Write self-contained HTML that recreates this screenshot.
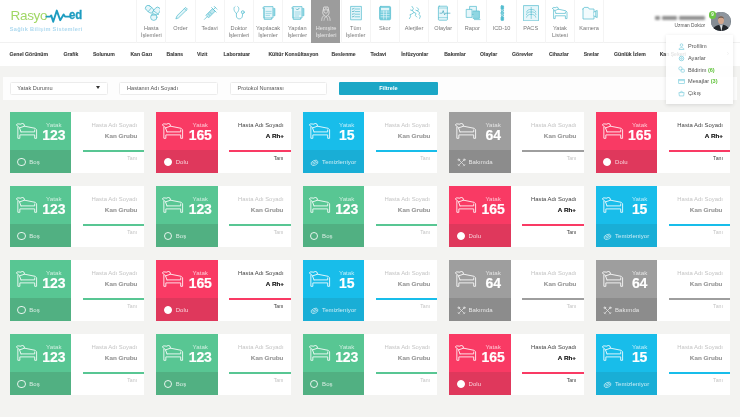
<!DOCTYPE html>
<html><head><meta charset="utf-8"><title>RasyoMed</title>
<style>
*{box-sizing:border-box;margin:0;padding:0}
html,body{width:740px;height:417px;overflow:hidden}
body{background:#f3f3f1;font-family:"Liberation Sans",sans-serif;position:relative;color:#555}
.top{position:absolute;left:0;top:0;width:740px;height:42.5px;background:#fff;border-bottom:1px solid #f1f1f1}
.subbar{position:absolute;left:0;top:42.5px;width:740px;height:23px;background:#fff}
.logo1{position:absolute;left:10.5px;top:7.5px;font-size:13.5px;color:#a0d765;letter-spacing:-0.3px;line-height:15px;font-weight:400}
.logo2{position:absolute;left:69.3px;top:7.6px;font-size:12.4px;color:#1d9cc0;font-weight:700;line-height:15px;-webkit-text-stroke:0.3px #1d9cc0;transform:scaleX(0.92);transform-origin:0 50%}
.ecg{position:absolute;left:0;top:0}
.tag{position:absolute;left:9.7px;top:25.6px;font-size:5.6px;font-weight:700;color:#add9ef;letter-spacing:0.33px;line-height:7px;white-space:nowrap}
.ni{position:absolute;top:0;width:29.19px;height:42.5px;border-left:1px solid #f4f4f4;text-align:center}
.ni svg{position:absolute;left:6.6px;top:4.6px}
.ni .nl{position:absolute;left:-4px;right:-4px;top:25.2px;font-size:5.6px;line-height:6.5px;color:#787878;white-space:nowrap}
.ni.act{background:#9c9c9c;border-left-color:#9c9c9c;height:42.5px;width:28.5px}
.ni.act .nl{color:#e8e8e8}
.nsep{position:absolute;top:0;width:1px;height:42.5px;background:#f4f4f4}
.si{position:absolute;top:50.4px;font-size:5.1px;-webkit-text-stroke:0.1px #3d3d3d;line-height:8px;font-weight:700;color:#3d3d3d;white-space:nowrap}
.uname{position:absolute;left:654px;top:15.4px;width:52px;height:5.5px;filter:blur(1.2px)}
.uname i{position:absolute;top:0.8px;height:3.6px;background:#909090;border-radius:1px}
.urole{position:absolute;right:34.8px;top:23.1px;font-size:4.8px;line-height:6px;color:#555;white-space:nowrap}
.avatar{position:absolute;left:711.3px;top:11.6px;width:19.6px;height:19.6px;border-radius:50%;overflow:hidden;background:#5c6670}
.badge{position:absolute;left:709px;top:11.4px;width:7.2px;height:7.2px;border-radius:50%;background:#6cc644;color:#fff;font-size:4.5px;line-height:7.2px;text-align:center;font-weight:700}
.sarrow{position:absolute;left:726.8px;top:49.6px;font-size:7px;line-height:8px;color:#777}
.fpanel{position:absolute;left:3.2px;top:76.6px;width:734.2px;height:23.4px;background:#fdfdfd}
.inp{position:absolute;top:82px;height:13px;background:#fff;border:1px solid #ececec;border-radius:1.5px;font-size:5.6px;line-height:11px;color:#555;padding-left:6.8px;white-space:nowrap}
.btn{position:absolute;left:339.2px;top:82.2px;width:98.4px;height:12.8px;background:#1ba7c6;border-radius:1px;color:#fff;font-weight:700;font-size:5.6px;line-height:12.8px;text-align:center}
.caret{position:absolute;left:96.4px;top:86.4px;width:0;height:0;border-left:2px solid transparent;border-right:2px solid transparent;border-top:3.4px solid #333}
.dd{position:absolute;left:666.4px;top:35.4px;width:66.8px;height:68.4px;background:rgba(255,255,255,0.87);box-shadow:0 0.5px 4px rgba(0,0,0,0.12)}
.dd .it{position:absolute;left:21.6px;font-size:5.6px;line-height:8px;color:#555;white-space:nowrap}
.dd .it b{color:#5fc23a}
.dd svg{position:absolute;left:11.8px}
.card{position:absolute;width:134.7px;height:61.2px;background:#fff}
.cl{position:absolute;left:0;top:0;width:61.4px;height:61.2px}
.ft{position:absolute;left:0;top:37.7px;width:61.4px;height:23.5px}
.kg .cl{background:#58c693}.kg .ft{background:#51b082}.kg .ln{background:#58c693}
.kr .cl{background:#f93a64}.kr .ft{background:#df385c}.kr .ln{background:#f93a64}
.kb .cl{background:#18bdea}.kb .ft{background:#19aed6}.kb .ln{background:#18bdea}
.kx .cl{background:#9e9e9e}.kx .ft{background:#8c8c8c}.kx .ln{background:#9e9e9e}
.bed{position:absolute;left:6px;top:10.9px}
.yt{position:absolute;left:24px;width:40px;top:8.9px;text-align:center;font-size:6.2px;line-height:7px;color:rgba(255,255,255,0.72)}
.num{position:absolute;left:24px;width:40px;top:15.4px;text-align:center;font-size:14px;-webkit-text-stroke:0.18px #fff;letter-spacing:0.3px;line-height:14px;font-weight:700;color:#fff;letter-spacing:-0.1px}
.circ{position:absolute;left:7.6px;top:8.1px;width:8.2px;height:8.2px;border:0.8px solid rgba(255,255,255,0.85);border-radius:50%}
.circ.full{background:#fff;border-color:#fff}
.sic{position:absolute;left:7.6px;top:7.9px;opacity:0.85}
.st{position:absolute;left:19.4px;top:9.3px;font-size:6px;letter-spacing:0.08px;line-height:7px;color:rgba(255,255,255,0.78);white-space:nowrap}
.cr{position:absolute;left:61.4px;top:0;width:73.3px;height:61.2px;text-align:right}
.t1{position:absolute;right:7.4px;top:10.1px;font-size:5.9px;line-height:7px;color:#c4c4c4;white-space:nowrap}
.t2{position:absolute;right:7.4px;top:19.6px;font-size:5.9px;transform:scaleX(1.07);transform-origin:100% 50%;-webkit-text-stroke:0.15px currentColor;line-height:8px;font-weight:700;color:#9a9a9a;white-space:nowrap}
.t3{position:absolute;right:7.4px;top:42.6px;font-size:5.2px;line-height:7px;color:#c4c4c4;white-space:nowrap}
.ln{position:absolute;left:11.6px;right:0;top:38.2px;height:1.6px}
.kr .t1{color:#444}.kr .t2{color:#111}.kr .t3{color:#444}
#wrap{position:absolute;left:0;top:0;width:740px;height:417px;filter:blur(0.4px);will-change:transform}
</style></head><body><div id="wrap">
<div class="top"></div>
<div class="subbar"></div>
<div class="logo1">Rasyo</div>
<svg class="ecg" width="90" height="30" viewBox="0 0 90 30"><path d="M46.4 16.6 H50 L51.2 15.4 L53.2 21.8 L56.8 10.6 L60.2 20.2 L63.6 14.4 L65 16.6 H69.6" fill="none" stroke="#1d9cc0" stroke-width="1.9" stroke-linejoin="round" stroke-linecap="round"/></svg>
<div class="logo2">ed</div>
<div class="tag">Sağlık Bilişim Sistemleri</div>
<div class="ni" style="left:136.20px"><svg viewBox="0 0 16 16" width="16" height="16"><g stroke="#5bbfd0" stroke-width="0.75" fill="#e6f6fa" stroke-linejoin="round" stroke-linecap="round"><rect x="1" y="1.5" width="9" height="5.4" rx="2.7" transform="rotate(40 5.5 4.2)"/><rect x="8" y="3.5" width="9" height="5.6" rx="2.8" transform="rotate(-50 12.5 6.3)"/><circle cx="9.8" cy="12.2" r="3.2"/><path d="M4.2 6.6 L7.6 2.6 M10.2 6.2 L14.6 9.6 M7.4 10.2 L12 10" fill="none"/></g></svg><div class="nl">Hasta<br>İşlemleri</div></div>
<div class="ni" style="left:165.39px"><svg viewBox="0 0 16 16" width="16" height="16"><g stroke="#5bbfd0" stroke-width="0.75" fill="none" stroke-linejoin="round" stroke-linecap="round"><path d="M3 13.5 L4 10.8 L12.6 2.4 L14.4 4.2 L5.8 12.6 Z" fill="#e2f5f9"/><path d="M11.4 3.6 L13.2 5.4"/></g></svg><div class="nl">Order</div></div>
<div class="ni" style="left:194.58px"><svg viewBox="0 0 16 16" width="16" height="16"><g stroke="#5bbfd0" stroke-width="0.75" fill="none" stroke-linejoin="round" stroke-linecap="round"><path d="M4.2 10 L10.6 3.6 L13.2 6.2 L6.8 12.6 Z" fill="#bfe6ee"/><path d="M2.4 14.4 L5.2 11.6 M11.4 4.6 L13.6 2.4 M12.2 1.4 L15 4.2 M9.6 2.6 L14.2 7.2 M6.4 9 L7.6 10.2 M8 7.4 L9.2 8.6"/></g></svg><div class="nl">Tedavi</div></div>
<div class="ni" style="left:223.77px"><svg viewBox="0 0 16 16" width="16" height="16"><g stroke="#5bbfd0" stroke-width="0.75" fill="none" stroke-linejoin="round" stroke-linecap="round"><path d="M4 1.6 C2.2 2.4 2.6 6.2 5.4 8.4 C8.2 6.2 8.6 2.4 6.8 1.6"/><path d="M5.4 8.4 L5.4 11 C5.4 14.8 11.2 14.8 11.4 11 L11.6 8.6"/><circle cx="11.8" cy="7.2" r="1.5" fill="#e2f5f9"/></g></svg><div class="nl">Doktor<br>İşlemleri</div></div>
<div class="ni" style="left:252.96px"><svg viewBox="0 0 16 16" width="16" height="16"><g stroke="#5bbfd0" stroke-width="0.75" fill="#e6f6fa" stroke-linejoin="round" stroke-linecap="round"><path d="M3.2 1.6 H12 V13 H6 L3.2 13 Z"/><path d="M1.6 3 H3.2 V14.4 H10.6 V13" fill="none"/><rect x="12.7" y="3.4" width="1.3" height="7.4" fill="#8ed6e2" stroke-width="0.5"/><path d="M5 6.4 H10.2 M5 8.4 H10.2 M5 10.4 H8.6" fill="none" stroke-width="0.5"/></g></svg><div class="nl">Yapılacak<br>İşlemler</div></div>
<div class="ni" style="left:282.15px"><svg viewBox="0 0 16 16" width="16" height="16"><g stroke="#5bbfd0" stroke-width="0.75" fill="#e6f6fa" stroke-linejoin="round" stroke-linecap="round"><path d="M3.2 1.6 H12 V13 H3.2 Z"/><path d="M1.6 3 H3.2 V14.4 H10.6 V13" fill="none"/><rect x="12.7" y="3.4" width="1.3" height="7.4" fill="#8ed6e2" stroke-width="0.5"/><path d="M5 7 H10.2 M5 9 H10.2 M5 11 H8.6" fill="none" stroke-width="0.5"/><path d="M6.4 4 L7.4 5 L9.2 3.2" fill="none" stroke="#3aa3b8"/></g></svg><div class="nl">Yapılan<br>İşlemler</div></div>
<div class="ni act" style="left:311.34px"><svg viewBox="0 0 16 16" width="16" height="16"><g stroke="#e6e6e6" stroke-width="0.8" fill="none" stroke-linejoin="round" stroke-linecap="round"><path d="M4.3 4.5 L4.8 2 H9 L9.5 4.5 Z"/><path d="M6.9 2.6 V3.8 M6.3 3.2 H7.5" stroke-width="0.5"/><path d="M4.9 4.5 V6 C4.9 8.8 8.9 8.8 8.9 6 V4.5"/><path d="M4.1 5.2 C3.4 7.2 3.6 9 4.5 9.8 M9.7 5.2 C10.4 7.2 10.2 9 9.3 9.8"/><path d="M2.7 15.4 C2.7 11.8 4.4 10.8 5.5 10.2 L6.9 12.6 L8.3 10.2 C9.4 10.8 11.1 11.8 11.1 15.4"/><path d="M5.5 12.8 L5 15.4 M8.3 12.8 L8.8 15.4" stroke-width="0.6"/></g></svg><div class="nl">Hemşire<br>İşlemleri</div></div>
<div class="ni" style="left:340.53px"><svg viewBox="0 0 16 16" width="16" height="16"><g stroke="#5bbfd0" stroke-width="0.75" fill="#e6f6fa" stroke-linejoin="round" stroke-linecap="round"><rect x="3" y="1.4" width="10.4" height="13.4"/><path d="M7 4 H11.6 M7 6.6 H11.6 M7 9.2 H11.6 M7 11.8 H11.6" fill="none"/><path d="M4.4 3.8 L5 4.4 L6 3.2 M4.4 6.4 L5 7 L6 5.8 M4.4 9 L5 9.6 L6 8.4 M4.4 11.6 L5 12.2 L6 11" fill="none" stroke="#3aa3b8" stroke-width="0.7"/></g></svg><div class="nl">Tüm<br>İşlemler</div></div>
<div class="ni" style="left:369.72px"><svg viewBox="0 0 16 16" width="16" height="16"><g stroke="#5bbfd0" stroke-width="0.75" fill="#e6f6fa" stroke-linejoin="round" stroke-linecap="round"><rect x="2.6" y="1.4" width="11" height="13.4" rx="1.2" fill="#74cddc"/><rect x="4" y="2.8" width="8.2" height="2.6" fill="#e2f5f9" stroke="none"/><path d="M4 7 H12.2 M4 9.4 H12.2 M4 11.8 H12.2 M6.7 6 V14 M9.4 6 V14" stroke="#e2f5f9" stroke-width="0.7" fill="none"/></g></svg><div class="nl">Skor</div></div>
<div class="ni" style="left:398.91px"><svg viewBox="0 0 16 16" width="16" height="16"><g stroke="#5bbfd0" stroke-width="0.75" fill="none" stroke-linejoin="round" stroke-linecap="round" stroke-width="0.8"><path d="M5 1.4 L6.4 3.6 L5.4 5.6 L7 7.4 L4.8 9 L3 9.6 L3.6 11.6 L2.4 13.6"/><path d="M10 2.6 L11.6 4.2 L10.6 6 L12.6 7.6 L12 9.6 L13.4 11 L12.6 13.4"/><path d="M7 7.4 L9 8.4 L8.4 10.6 L9.8 12 M10.6 6 L8.8 5.2 M5.4 5.6 L3.6 5"/></g></svg><div class="nl">Alerjiler</div></div>
<div class="ni" style="left:428.10px"><svg viewBox="0 0 16 16" width="16" height="16"><g stroke="#5bbfd0" stroke-width="0.75" fill="#e6f6fa" stroke-linejoin="round" stroke-linecap="round"><rect x="2.4" y="1.2" width="9" height="14" rx="0.8"/><path d="M2.4 3 H11.4 M2.4 12.6 H11.4" fill="none" stroke-width="0.55"/><path d="M4 8.2 H6.2 L7.2 5.6 L8.6 9.8 L9.4 8.2 H14" fill="none" stroke="#3aa3b8" stroke-width="0.65"/></g></svg><div class="nl">Olaylar</div></div>
<div class="ni" style="left:457.29px"><svg viewBox="0 0 16 16" width="16" height="16"><g stroke="#5bbfd0" stroke-width="0.75" fill="#e6f6fa" stroke-linejoin="round" stroke-linecap="round"><rect x="5" y="1.4" width="6.4" height="8"/><rect x="1.6" y="4.4" width="5.4" height="8" /><rect x="8.4" y="6" width="6" height="7.4" fill="#8fd6e2"/><path d="M9.4 14.6 H15" fill="none"/></g></svg><div class="nl">Rapor</div></div>
<div class="ni" style="left:486.48px"><svg viewBox="0 0 16 16" width="16" height="16"><g stroke="#5bbfd0" stroke-width="0.75" fill="#e6f6fa" stroke-linejoin="round" stroke-linecap="round"><rect x="7" y="0.8" width="2.6" height="3.6" rx="0.4" fill="#4fbccf"/><circle cx="8.3" cy="5.6" r="1" fill="#e6f6fa"/><rect x="7" y="6.8" width="2.6" height="2.6" rx="0.4" fill="#7fd0de"/><circle cx="8.3" cy="10.6" r="1" fill="#e6f6fa"/><rect x="7" y="11.8" width="2.6" height="3.6" rx="0.4" fill="#4fbccf"/></g></svg><div class="nl">ICD-10</div></div>
<div class="ni" style="left:515.67px"><svg viewBox="0 0 16 16" width="16" height="16"><g stroke="#5bbfd0" stroke-width="0.75" fill="#e6f6fa" stroke-linejoin="round" stroke-linecap="round"><rect x="0.8" y="0.6" width="14.8" height="15.2"/><path d="M8.2 2.4 V13.6 M8.2 4.6 C5.6 4 3.8 5.4 3.6 7 M8.2 7 C5.6 6.4 3.6 7.8 3.4 9.6 M8.2 9.4 C5.8 9 3.8 10.4 3.6 12.2 M8.2 4.6 C10.8 4 12.6 5.4 12.8 7 M8.2 7 C10.8 6.4 12.8 7.8 13 9.6 M8.2 9.4 C10.6 9 12.6 10.4 12.8 12.2" fill="none" stroke-width="0.65"/></g></svg><div class="nl">PACS</div></div>
<div class="ni" style="left:544.86px"><svg viewBox="0 0 16 16" width="16" height="16"><g stroke="#5bbfd0" stroke-width="0.75" fill="none" stroke-linejoin="round" stroke-linecap="round"><path d="M1.6 5.2 V13.6 H3.2 V10.8 H13.4 V13.6 H15 V7 L13.8 5.8 L6.4 4.2"/><path d="M4 8.4 H13.4 V7"/><path d="M0.6 3.4 C0.6 2.6 1.2 2.4 1.8 2.5 L4 2.7 L4.8 2 L6 2.6 L6.4 4.2 L2.8 5.6 M0.6 3.4 L2.8 5.6 L4 8.4"/></g></svg><div class="nl">Yatak<br>Listesi</div></div>
<div class="ni" style="left:574.05px"><svg viewBox="0 0 16 16" width="16" height="16"><g stroke="#5bbfd0" stroke-width="0.75" fill="none" stroke-linejoin="round" stroke-linecap="round"><path d="M1 4 V14 H12 V4 H7.2 L6.2 2.4 H2.2 L1 4 Z" fill="#f2fbfd"/><path d="M12 7 L15.2 5.4 V12.6 L12 11" fill="#f2fbfd"/><path d="M13.8 6.2 V11.8"/></g></svg><div class="nl">Kamera</div></div>
<div class="nsep" style="left:603.24px"></div>
<span class="si" style="left:9.5px">Genel Görünüm</span>
<span class="si" style="left:63.5px">Grafik</span>
<span class="si" style="left:92.9px">Solunum</span>
<span class="si" style="left:130.4px">Kan Gazı</span>
<span class="si" style="left:166.5px">Balans</span>
<span class="si" style="left:197px">Vizit</span>
<span class="si" style="left:223.5px">Laboratuar</span>
<span class="si" style="left:268.4px">Kültür Konsültasyon</span>
<span class="si" style="left:331.6px">Beslenme</span>
<span class="si" style="left:370.5px">Tedavi</span>
<span class="si" style="left:401.2px">İnfüzyonlar</span>
<span class="si" style="left:444.2px">Bakımlar</span>
<span class="si" style="left:480px">Olaylar</span>
<span class="si" style="left:512.1px">Görevler</span>
<span class="si" style="left:548.9px">Cihazlar</span>
<span class="si" style="left:583.7px">Sıvılar</span>
<span class="si" style="left:614.1px">Günlük İzlem</span>
<span class="si" style="left:659.7px">Kan Şekeri</span>
<div class="sarrow">&rsaquo;</div>
<div class="uname"><i style="left:0.5px;width:5.5px"></i><i style="left:8px;width:15px"></i><i style="left:25.4px;width:25.6px"></i></div>
<div class="urole">Uzman Doktor</div>
<div class="avatar"><svg width="19.6" height="19.6" viewBox="0 0 20 20"><rect width="20" height="20" fill="#8f969e"/><rect x="0" y="0" width="9" height="20" fill="#858c94"/><path d="M1.5 20 C2 14.6 5.6 14 8 13.2 L10.4 15.4 L12.4 13 C15 13.6 18 14.4 18.6 20 Z" fill="#22262b"/><path d="M9.2 13.6 L10.6 20 L11.8 13.4 Z" fill="#dfe3e6"/><ellipse cx="10.2" cy="8.4" rx="3" ry="4" fill="#d3a68c"/><path d="M7.1 7.4 C6.8 3.4 13.6 3.2 13.3 7.4 C12.4 5.4 8 5.4 7.1 7.4 Z" fill="#6a5a50"/></svg></div>
<div class="badge">9</div>
<div class="fpanel"></div>
<div class="inp" style="left:9.5px;width:98.6px">Yatak Durumu</div><div class="caret"></div>
<div class="inp" style="left:119.2px;width:98.6px">Hastanın Adı Soyadı</div>
<div class="inp" style="left:229.7px;width:97.8px">Protokol Numarası</div>
<div class="btn">Filtrele</div>
<div class="card kg" style="left:9.80px;top:112.20px"><div class="cl"><svg class="bed" viewBox="0 0 22 17" width="22" height="17"><g stroke="#fff" stroke-width="0.95" fill="none" stroke-linejoin="round" stroke-linecap="round" opacity="0.88"><path d="M1.85 4 V15.3 H3.85 V11.9 H18.7 V15.3 H20.6 V6.8 L19.2 5.3 L8.5 3.2"/><path d="M5 8.9 H18.7 V6.9"/><path d="M0.5 1.9 C0.5 1 1.3 0.8 2 0.9 L5 1.2 L6.1 0.3 L7.9 1 L8.5 3.2 L3.5 4.9 M0.5 1.9 L3.5 4.9 L5 8.9"/></g></svg><div class="yt">Yatak</div><div class="num">123</div><div class="ft"><span class="circ"></span><span class="st">Boş</span></div></div><div class="cr"><div class="t1">Hasta Adı Soyadı</div><div class="t2">Kan Grubu</div><div class="ln"></div><div class="t3">Tanı</div></div></div>
<div class="card kr" style="left:156.25px;top:112.20px"><div class="cl"><svg class="bed" viewBox="0 0 22 17" width="22" height="17"><g stroke="#fff" stroke-width="0.95" fill="none" stroke-linejoin="round" stroke-linecap="round" opacity="0.88"><path d="M1.85 4 V15.3 H3.85 V11.9 H18.7 V15.3 H20.6 V6.8 L19.2 5.3 L8.5 3.2"/><path d="M5 8.9 H18.7 V6.9"/><path d="M0.5 1.9 C0.5 1 1.3 0.8 2 0.9 L5 1.2 L6.1 0.3 L7.9 1 L8.5 3.2 L3.5 4.9 M0.5 1.9 L3.5 4.9 L5 8.9"/></g></svg><div class="yt">Yatak</div><div class="num">165</div><div class="ft"><span class="circ full"></span><span class="st">Dolu</span></div></div><div class="cr"><div class="t1">Hasta Adı Soyadı</div><div class="t2">A Rh+</div><div class="ln"></div><div class="t3">Tanı</div></div></div>
<div class="card kb" style="left:302.70px;top:112.20px"><div class="cl"><svg class="bed" viewBox="0 0 22 17" width="22" height="17"><g stroke="#fff" stroke-width="0.95" fill="none" stroke-linejoin="round" stroke-linecap="round" opacity="0.88"><path d="M1.85 4 V15.3 H3.85 V11.9 H18.7 V15.3 H20.6 V6.8 L19.2 5.3 L8.5 3.2"/><path d="M5 8.9 H18.7 V6.9"/><path d="M0.5 1.9 C0.5 1 1.3 0.8 2 0.9 L5 1.2 L6.1 0.3 L7.9 1 L8.5 3.2 L3.5 4.9 M0.5 1.9 L3.5 4.9 L5 8.9"/></g></svg><div class="yt">Yatak</div><div class="num">15</div><div class="ft"><svg class="sic" viewBox="0 0 10 10" width="9" height="9"><g stroke="#fff" stroke-width="0.8" fill="none" opacity="0.9"><ellipse cx="5" cy="5.4" rx="4" ry="2.6" transform="rotate(-25 5 5.4)"/><path d="M2.4 5.6 L7.4 3.4 M3 7 L7.8 4.8"/></g></svg><span class="st">Temizleniyor</span></div></div><div class="cr"><div class="t1">Hasta Adı Soyadı</div><div class="t2">Kan Grubu</div><div class="ln"></div><div class="t3">Tanı</div></div></div>
<div class="card kx" style="left:449.15px;top:112.20px"><div class="cl"><svg class="bed" viewBox="0 0 22 17" width="22" height="17"><g stroke="#fff" stroke-width="0.95" fill="none" stroke-linejoin="round" stroke-linecap="round" opacity="0.88"><path d="M1.85 4 V15.3 H3.85 V11.9 H18.7 V15.3 H20.6 V6.8 L19.2 5.3 L8.5 3.2"/><path d="M5 8.9 H18.7 V6.9"/><path d="M0.5 1.9 C0.5 1 1.3 0.8 2 0.9 L5 1.2 L6.1 0.3 L7.9 1 L8.5 3.2 L3.5 4.9 M0.5 1.9 L3.5 4.9 L5 8.9"/></g></svg><div class="yt">Yatak</div><div class="num">64</div><div class="ft"><svg class="sic" viewBox="0 0 10 10" width="9" height="9"><g stroke="#fff" stroke-width="0.8" fill="none" opacity="0.9" stroke-linecap="round"><path d="M1.6 8.4 L8.4 1.6 M1.6 1.6 L8.4 8.4"/><circle cx="2" cy="2" r="1"/><circle cx="8" cy="2" r="1"/><path d="M1.2 7.2 L2.8 8.8 M7.2 8.8 L8.8 7.2"/></g></svg><span class="st">Bakımda</span></div></div><div class="cr"><div class="t1">Hasta Adı Soyadı</div><div class="t2">Kan Grubu</div><div class="ln"></div><div class="t3">Tanı</div></div></div>
<div class="card kr" style="left:595.60px;top:112.20px"><div class="cl"><svg class="bed" viewBox="0 0 22 17" width="22" height="17"><g stroke="#fff" stroke-width="0.95" fill="none" stroke-linejoin="round" stroke-linecap="round" opacity="0.88"><path d="M1.85 4 V15.3 H3.85 V11.9 H18.7 V15.3 H20.6 V6.8 L19.2 5.3 L8.5 3.2"/><path d="M5 8.9 H18.7 V6.9"/><path d="M0.5 1.9 C0.5 1 1.3 0.8 2 0.9 L5 1.2 L6.1 0.3 L7.9 1 L8.5 3.2 L3.5 4.9 M0.5 1.9 L3.5 4.9 L5 8.9"/></g></svg><div class="yt">Yatak</div><div class="num">165</div><div class="ft"><span class="circ full"></span><span class="st">Dolu</span></div></div><div class="cr"><div class="t1">Hasta Adı Soyadı</div><div class="t2">A Rh+</div><div class="ln"></div><div class="t3">Tanı</div></div></div>
<div class="card kg" style="left:9.80px;top:186.20px"><div class="cl"><svg class="bed" viewBox="0 0 22 17" width="22" height="17"><g stroke="#fff" stroke-width="0.95" fill="none" stroke-linejoin="round" stroke-linecap="round" opacity="0.88"><path d="M1.85 4 V15.3 H3.85 V11.9 H18.7 V15.3 H20.6 V6.8 L19.2 5.3 L8.5 3.2"/><path d="M5 8.9 H18.7 V6.9"/><path d="M0.5 1.9 C0.5 1 1.3 0.8 2 0.9 L5 1.2 L6.1 0.3 L7.9 1 L8.5 3.2 L3.5 4.9 M0.5 1.9 L3.5 4.9 L5 8.9"/></g></svg><div class="yt">Yatak</div><div class="num">123</div><div class="ft"><span class="circ"></span><span class="st">Boş</span></div></div><div class="cr"><div class="t1">Hasta Adı Soyadı</div><div class="t2">Kan Grubu</div><div class="ln"></div><div class="t3">Tanı</div></div></div>
<div class="card kg" style="left:156.25px;top:186.20px"><div class="cl"><svg class="bed" viewBox="0 0 22 17" width="22" height="17"><g stroke="#fff" stroke-width="0.95" fill="none" stroke-linejoin="round" stroke-linecap="round" opacity="0.88"><path d="M1.85 4 V15.3 H3.85 V11.9 H18.7 V15.3 H20.6 V6.8 L19.2 5.3 L8.5 3.2"/><path d="M5 8.9 H18.7 V6.9"/><path d="M0.5 1.9 C0.5 1 1.3 0.8 2 0.9 L5 1.2 L6.1 0.3 L7.9 1 L8.5 3.2 L3.5 4.9 M0.5 1.9 L3.5 4.9 L5 8.9"/></g></svg><div class="yt">Yatak</div><div class="num">123</div><div class="ft"><span class="circ"></span><span class="st">Boş</span></div></div><div class="cr"><div class="t1">Hasta Adı Soyadı</div><div class="t2">Kan Grubu</div><div class="ln"></div><div class="t3">Tanı</div></div></div>
<div class="card kg" style="left:302.70px;top:186.20px"><div class="cl"><svg class="bed" viewBox="0 0 22 17" width="22" height="17"><g stroke="#fff" stroke-width="0.95" fill="none" stroke-linejoin="round" stroke-linecap="round" opacity="0.88"><path d="M1.85 4 V15.3 H3.85 V11.9 H18.7 V15.3 H20.6 V6.8 L19.2 5.3 L8.5 3.2"/><path d="M5 8.9 H18.7 V6.9"/><path d="M0.5 1.9 C0.5 1 1.3 0.8 2 0.9 L5 1.2 L6.1 0.3 L7.9 1 L8.5 3.2 L3.5 4.9 M0.5 1.9 L3.5 4.9 L5 8.9"/></g></svg><div class="yt">Yatak</div><div class="num">123</div><div class="ft"><span class="circ"></span><span class="st">Boş</span></div></div><div class="cr"><div class="t1">Hasta Adı Soyadı</div><div class="t2">Kan Grubu</div><div class="ln"></div><div class="t3">Tanı</div></div></div>
<div class="card kr" style="left:449.15px;top:186.20px"><div class="cl"><svg class="bed" viewBox="0 0 22 17" width="22" height="17"><g stroke="#fff" stroke-width="0.95" fill="none" stroke-linejoin="round" stroke-linecap="round" opacity="0.88"><path d="M1.85 4 V15.3 H3.85 V11.9 H18.7 V15.3 H20.6 V6.8 L19.2 5.3 L8.5 3.2"/><path d="M5 8.9 H18.7 V6.9"/><path d="M0.5 1.9 C0.5 1 1.3 0.8 2 0.9 L5 1.2 L6.1 0.3 L7.9 1 L8.5 3.2 L3.5 4.9 M0.5 1.9 L3.5 4.9 L5 8.9"/></g></svg><div class="yt">Yatak</div><div class="num">165</div><div class="ft"><span class="circ full"></span><span class="st">Dolu</span></div></div><div class="cr"><div class="t1">Hasta Adı Soyadı</div><div class="t2">A Rh+</div><div class="ln"></div><div class="t3">Tanı</div></div></div>
<div class="card kb" style="left:595.60px;top:186.20px"><div class="cl"><svg class="bed" viewBox="0 0 22 17" width="22" height="17"><g stroke="#fff" stroke-width="0.95" fill="none" stroke-linejoin="round" stroke-linecap="round" opacity="0.88"><path d="M1.85 4 V15.3 H3.85 V11.9 H18.7 V15.3 H20.6 V6.8 L19.2 5.3 L8.5 3.2"/><path d="M5 8.9 H18.7 V6.9"/><path d="M0.5 1.9 C0.5 1 1.3 0.8 2 0.9 L5 1.2 L6.1 0.3 L7.9 1 L8.5 3.2 L3.5 4.9 M0.5 1.9 L3.5 4.9 L5 8.9"/></g></svg><div class="yt">Yatak</div><div class="num">15</div><div class="ft"><svg class="sic" viewBox="0 0 10 10" width="9" height="9"><g stroke="#fff" stroke-width="0.8" fill="none" opacity="0.9"><ellipse cx="5" cy="5.4" rx="4" ry="2.6" transform="rotate(-25 5 5.4)"/><path d="M2.4 5.6 L7.4 3.4 M3 7 L7.8 4.8"/></g></svg><span class="st">Temizleniyor</span></div></div><div class="cr"><div class="t1">Hasta Adı Soyadı</div><div class="t2">Kan Grubu</div><div class="ln"></div><div class="t3">Tanı</div></div></div>
<div class="card kg" style="left:9.80px;top:260.20px"><div class="cl"><svg class="bed" viewBox="0 0 22 17" width="22" height="17"><g stroke="#fff" stroke-width="0.95" fill="none" stroke-linejoin="round" stroke-linecap="round" opacity="0.88"><path d="M1.85 4 V15.3 H3.85 V11.9 H18.7 V15.3 H20.6 V6.8 L19.2 5.3 L8.5 3.2"/><path d="M5 8.9 H18.7 V6.9"/><path d="M0.5 1.9 C0.5 1 1.3 0.8 2 0.9 L5 1.2 L6.1 0.3 L7.9 1 L8.5 3.2 L3.5 4.9 M0.5 1.9 L3.5 4.9 L5 8.9"/></g></svg><div class="yt">Yatak</div><div class="num">123</div><div class="ft"><span class="circ"></span><span class="st">Boş</span></div></div><div class="cr"><div class="t1">Hasta Adı Soyadı</div><div class="t2">Kan Grubu</div><div class="ln"></div><div class="t3">Tanı</div></div></div>
<div class="card kr" style="left:156.25px;top:260.20px"><div class="cl"><svg class="bed" viewBox="0 0 22 17" width="22" height="17"><g stroke="#fff" stroke-width="0.95" fill="none" stroke-linejoin="round" stroke-linecap="round" opacity="0.88"><path d="M1.85 4 V15.3 H3.85 V11.9 H18.7 V15.3 H20.6 V6.8 L19.2 5.3 L8.5 3.2"/><path d="M5 8.9 H18.7 V6.9"/><path d="M0.5 1.9 C0.5 1 1.3 0.8 2 0.9 L5 1.2 L6.1 0.3 L7.9 1 L8.5 3.2 L3.5 4.9 M0.5 1.9 L3.5 4.9 L5 8.9"/></g></svg><div class="yt">Yatak</div><div class="num">165</div><div class="ft"><span class="circ full"></span><span class="st">Dolu</span></div></div><div class="cr"><div class="t1">Hasta Adı Soyadı</div><div class="t2">A Rh+</div><div class="ln"></div><div class="t3">Tanı</div></div></div>
<div class="card kb" style="left:302.70px;top:260.20px"><div class="cl"><svg class="bed" viewBox="0 0 22 17" width="22" height="17"><g stroke="#fff" stroke-width="0.95" fill="none" stroke-linejoin="round" stroke-linecap="round" opacity="0.88"><path d="M1.85 4 V15.3 H3.85 V11.9 H18.7 V15.3 H20.6 V6.8 L19.2 5.3 L8.5 3.2"/><path d="M5 8.9 H18.7 V6.9"/><path d="M0.5 1.9 C0.5 1 1.3 0.8 2 0.9 L5 1.2 L6.1 0.3 L7.9 1 L8.5 3.2 L3.5 4.9 M0.5 1.9 L3.5 4.9 L5 8.9"/></g></svg><div class="yt">Yatak</div><div class="num">15</div><div class="ft"><svg class="sic" viewBox="0 0 10 10" width="9" height="9"><g stroke="#fff" stroke-width="0.8" fill="none" opacity="0.9"><ellipse cx="5" cy="5.4" rx="4" ry="2.6" transform="rotate(-25 5 5.4)"/><path d="M2.4 5.6 L7.4 3.4 M3 7 L7.8 4.8"/></g></svg><span class="st">Temizleniyor</span></div></div><div class="cr"><div class="t1">Hasta Adı Soyadı</div><div class="t2">Kan Grubu</div><div class="ln"></div><div class="t3">Tanı</div></div></div>
<div class="card kx" style="left:449.15px;top:260.20px"><div class="cl"><svg class="bed" viewBox="0 0 22 17" width="22" height="17"><g stroke="#fff" stroke-width="0.95" fill="none" stroke-linejoin="round" stroke-linecap="round" opacity="0.88"><path d="M1.85 4 V15.3 H3.85 V11.9 H18.7 V15.3 H20.6 V6.8 L19.2 5.3 L8.5 3.2"/><path d="M5 8.9 H18.7 V6.9"/><path d="M0.5 1.9 C0.5 1 1.3 0.8 2 0.9 L5 1.2 L6.1 0.3 L7.9 1 L8.5 3.2 L3.5 4.9 M0.5 1.9 L3.5 4.9 L5 8.9"/></g></svg><div class="yt">Yatak</div><div class="num">64</div><div class="ft"><svg class="sic" viewBox="0 0 10 10" width="9" height="9"><g stroke="#fff" stroke-width="0.8" fill="none" opacity="0.9" stroke-linecap="round"><path d="M1.6 8.4 L8.4 1.6 M1.6 1.6 L8.4 8.4"/><circle cx="2" cy="2" r="1"/><circle cx="8" cy="2" r="1"/><path d="M1.2 7.2 L2.8 8.8 M7.2 8.8 L8.8 7.2"/></g></svg><span class="st">Bakımda</span></div></div><div class="cr"><div class="t1">Hasta Adı Soyadı</div><div class="t2">Kan Grubu</div><div class="ln"></div><div class="t3">Tanı</div></div></div>
<div class="card kx" style="left:595.60px;top:260.20px"><div class="cl"><svg class="bed" viewBox="0 0 22 17" width="22" height="17"><g stroke="#fff" stroke-width="0.95" fill="none" stroke-linejoin="round" stroke-linecap="round" opacity="0.88"><path d="M1.85 4 V15.3 H3.85 V11.9 H18.7 V15.3 H20.6 V6.8 L19.2 5.3 L8.5 3.2"/><path d="M5 8.9 H18.7 V6.9"/><path d="M0.5 1.9 C0.5 1 1.3 0.8 2 0.9 L5 1.2 L6.1 0.3 L7.9 1 L8.5 3.2 L3.5 4.9 M0.5 1.9 L3.5 4.9 L5 8.9"/></g></svg><div class="yt">Yatak</div><div class="num">64</div><div class="ft"><svg class="sic" viewBox="0 0 10 10" width="9" height="9"><g stroke="#fff" stroke-width="0.8" fill="none" opacity="0.9" stroke-linecap="round"><path d="M1.6 8.4 L8.4 1.6 M1.6 1.6 L8.4 8.4"/><circle cx="2" cy="2" r="1"/><circle cx="8" cy="2" r="1"/><path d="M1.2 7.2 L2.8 8.8 M7.2 8.8 L8.8 7.2"/></g></svg><span class="st">Bakımda</span></div></div><div class="cr"><div class="t1">Hasta Adı Soyadı</div><div class="t2">Kan Grubu</div><div class="ln"></div><div class="t3">Tanı</div></div></div>
<div class="card kg" style="left:9.80px;top:334.20px"><div class="cl"><svg class="bed" viewBox="0 0 22 17" width="22" height="17"><g stroke="#fff" stroke-width="0.95" fill="none" stroke-linejoin="round" stroke-linecap="round" opacity="0.88"><path d="M1.85 4 V15.3 H3.85 V11.9 H18.7 V15.3 H20.6 V6.8 L19.2 5.3 L8.5 3.2"/><path d="M5 8.9 H18.7 V6.9"/><path d="M0.5 1.9 C0.5 1 1.3 0.8 2 0.9 L5 1.2 L6.1 0.3 L7.9 1 L8.5 3.2 L3.5 4.9 M0.5 1.9 L3.5 4.9 L5 8.9"/></g></svg><div class="yt">Yatak</div><div class="num">123</div><div class="ft"><span class="circ"></span><span class="st">Boş</span></div></div><div class="cr"><div class="t1">Hasta Adı Soyadı</div><div class="t2">Kan Grubu</div><div class="ln"></div><div class="t3">Tanı</div></div></div>
<div class="card kg" style="left:156.25px;top:334.20px"><div class="cl"><svg class="bed" viewBox="0 0 22 17" width="22" height="17"><g stroke="#fff" stroke-width="0.95" fill="none" stroke-linejoin="round" stroke-linecap="round" opacity="0.88"><path d="M1.85 4 V15.3 H3.85 V11.9 H18.7 V15.3 H20.6 V6.8 L19.2 5.3 L8.5 3.2"/><path d="M5 8.9 H18.7 V6.9"/><path d="M0.5 1.9 C0.5 1 1.3 0.8 2 0.9 L5 1.2 L6.1 0.3 L7.9 1 L8.5 3.2 L3.5 4.9 M0.5 1.9 L3.5 4.9 L5 8.9"/></g></svg><div class="yt">Yatak</div><div class="num">123</div><div class="ft"><span class="circ"></span><span class="st">Boş</span></div></div><div class="cr"><div class="t1">Hasta Adı Soyadı</div><div class="t2">Kan Grubu</div><div class="ln"></div><div class="t3">Tanı</div></div></div>
<div class="card kg" style="left:302.70px;top:334.20px"><div class="cl"><svg class="bed" viewBox="0 0 22 17" width="22" height="17"><g stroke="#fff" stroke-width="0.95" fill="none" stroke-linejoin="round" stroke-linecap="round" opacity="0.88"><path d="M1.85 4 V15.3 H3.85 V11.9 H18.7 V15.3 H20.6 V6.8 L19.2 5.3 L8.5 3.2"/><path d="M5 8.9 H18.7 V6.9"/><path d="M0.5 1.9 C0.5 1 1.3 0.8 2 0.9 L5 1.2 L6.1 0.3 L7.9 1 L8.5 3.2 L3.5 4.9 M0.5 1.9 L3.5 4.9 L5 8.9"/></g></svg><div class="yt">Yatak</div><div class="num">123</div><div class="ft"><span class="circ"></span><span class="st">Boş</span></div></div><div class="cr"><div class="t1">Hasta Adı Soyadı</div><div class="t2">Kan Grubu</div><div class="ln"></div><div class="t3">Tanı</div></div></div>
<div class="card kr" style="left:449.15px;top:334.20px"><div class="cl"><svg class="bed" viewBox="0 0 22 17" width="22" height="17"><g stroke="#fff" stroke-width="0.95" fill="none" stroke-linejoin="round" stroke-linecap="round" opacity="0.88"><path d="M1.85 4 V15.3 H3.85 V11.9 H18.7 V15.3 H20.6 V6.8 L19.2 5.3 L8.5 3.2"/><path d="M5 8.9 H18.7 V6.9"/><path d="M0.5 1.9 C0.5 1 1.3 0.8 2 0.9 L5 1.2 L6.1 0.3 L7.9 1 L8.5 3.2 L3.5 4.9 M0.5 1.9 L3.5 4.9 L5 8.9"/></g></svg><div class="yt">Yatak</div><div class="num">165</div><div class="ft"><span class="circ full"></span><span class="st">Dolu</span></div></div><div class="cr"><div class="t1">Hasta Adı Soyadı</div><div class="t2">A Rh+</div><div class="ln"></div><div class="t3">Tanı</div></div></div>
<div class="card kb" style="left:595.60px;top:334.20px"><div class="cl"><svg class="bed" viewBox="0 0 22 17" width="22" height="17"><g stroke="#fff" stroke-width="0.95" fill="none" stroke-linejoin="round" stroke-linecap="round" opacity="0.88"><path d="M1.85 4 V15.3 H3.85 V11.9 H18.7 V15.3 H20.6 V6.8 L19.2 5.3 L8.5 3.2"/><path d="M5 8.9 H18.7 V6.9"/><path d="M0.5 1.9 C0.5 1 1.3 0.8 2 0.9 L5 1.2 L6.1 0.3 L7.9 1 L8.5 3.2 L3.5 4.9 M0.5 1.9 L3.5 4.9 L5 8.9"/></g></svg><div class="yt">Yatak</div><div class="num">15</div><div class="ft"><svg class="sic" viewBox="0 0 10 10" width="9" height="9"><g stroke="#fff" stroke-width="0.8" fill="none" opacity="0.9"><ellipse cx="5" cy="5.4" rx="4" ry="2.6" transform="rotate(-25 5 5.4)"/><path d="M2.4 5.6 L7.4 3.4 M3 7 L7.8 4.8"/></g></svg><span class="st">Temizleniyor</span></div></div><div class="cr"><div class="t1">Hasta Adı Soyadı</div><div class="t2">Kan Grubu</div><div class="ln"></div><div class="t3">Tanı</div></div></div>
<div class="dd">
<svg style="top:7.4px" width="7" height="7" viewBox="0 0 8 8"><g fill="none" stroke="#7fcfde" stroke-width="0.8"><circle cx="4" cy="2.4" r="1.5"/><path d="M1.2 7.4 C1.2 4.6 6.8 4.6 6.8 7.4 Z"/></g></svg>
<div class="it" style="top:6.8px">Profilim</div>
<svg style="top:19.2px" width="7" height="7" viewBox="0 0 8 8"><g fill="none" stroke="#7fcfde" stroke-width="0.9"><circle cx="4" cy="4" r="2.6"/><circle cx="4" cy="4" r="0.9"/></g></svg>
<div class="it" style="top:18.6px">Ayarlar</div>
<svg style="top:30.8px" width="7" height="7" viewBox="0 0 8 8"><g fill="none" stroke="#7fcfde" stroke-width="0.8"><circle cx="2.8" cy="2.8" r="1.9"/><rect x="3.6" y="3.8" width="3.6" height="3.2" rx="0.6"/></g></svg>
<div class="it" style="top:30.2px">Bildirim <b>(6)</b></div>
<svg style="top:42.6px" width="7" height="7" viewBox="0 0 8 8"><g fill="none" stroke="#7fcfde" stroke-width="0.8"><rect x="0.8" y="1.6" width="6.4" height="4.8"/><path d="M0.8 3 H7.2"/></g></svg>
<div class="it" style="top:42px">Mesajlar <b>(3)</b></div>
<svg style="top:54.4px" width="7" height="7" viewBox="0 0 8 8"><g fill="none" stroke="#7fcfde" stroke-width="0.8"><path d="M1 3 H7 L6.4 6.8 H1.6 Z M2.6 3 C2.6 1 5.4 1 5.4 3"/></g></svg>
<div class="it" style="top:53.8px">Çıkış</div>
</div>
</div></body></html>
